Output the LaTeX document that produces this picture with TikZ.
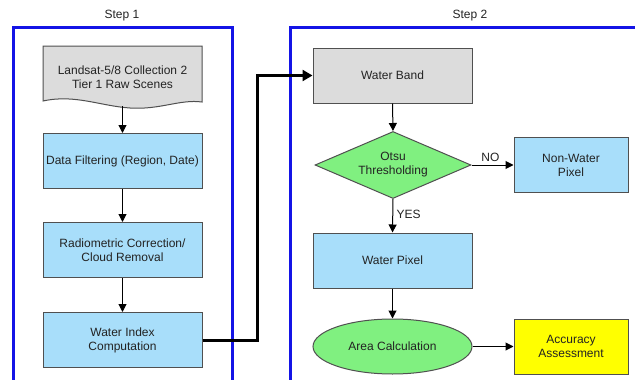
\documentclass[tikz,border=0pt]{standalone}
\usepackage{fontspec}
\setmainfont{Liberation Sans}
\usetikzlibrary{shapes.geometric,arrows.meta}
\definecolor{frameblue}{RGB}{20,20,230}
\definecolor{boxblue}{RGB}{168,222,250}
\definecolor{boxgray}{RGB}{220,220,220}
\definecolor{boxgreen}{RGB}{128,240,128}
\definecolor{boxyellow}{RGB}{255,255,0}
\definecolor{edgegray}{RGB}{80,80,80}
\definecolor{txt}{RGB}{35,35,35}
\tikzset{
  every node/.style={font=\fontsize{12}{14}\selectfont, text=txt},
  stepframe/.style={draw=frameblue, line width=3},
  procbox/.style={draw=edgegray, line width=1, fill=boxblue, minimum width=159, minimum height=55, align=center, inner sep=0},
  smallbox/.style={procbox, minimum width=114},
  graybox/.style={procbox, fill=boxgray},
  decision/.style={diamond, draw=edgegray, line width=1, fill=boxgreen, minimum width=156, minimum height=67, inner sep=0, align=center, aspect=2.3},
  terminal/.style={ellipse, draw=edgegray, line width=1, fill=boxgreen, minimum width=159, minimum height=55, inner sep=0, align=center},
  flow/.style={draw=black, line width=1, -{Triangle[length=8,width=8]}},
  bigflow/.style={draw=black, line width=3, -{Triangle[length=10,width=11]}},
  lbl/.style={font=\fontsize{12}{14}\selectfont, text=txt}
}
\begin{document}
\begin{tikzpicture}[x=1pt,y=-1pt]
\useasboundingbox (0,0) rectangle (635,380);
\fill[white] (0,0) rectangle (635,380);
% frames
\draw[stepframe] (13,400) -- (13,27) -- (232,27) -- (232,400);
\draw[stepframe] (290,400) -- (290,27) -- (650,27);
\node[lbl] (s1) at (122,16) {Step 1};
\node[lbl] (s2) at (470,16) {Step 2};
% document shape
\draw[draw=edgegray, line width=1, fill=boxgray] (43,46) -- (202,46) -- (202,102)
  .. controls (180,99) and (160,110) .. (130,108)
  .. controls (100,106) and (75,94) .. (43,101) -- cycle;
\node[align=center] (land) at (122.5,77) {Landsat-5/8 Collection 2\\Tier 1 Raw Scenes};
\coordinate (landb) at (122.5,106);
% step 1 boxes
\node[procbox] (filt) at (122.5,161) {Data Filtering (Region, Date)};
\node[procbox] (radio) at (122.5,250) {Radiometric Correction/\\Cloud Removal};
\node[procbox] (widx) at (122.5,340) {Water Index\\Computation};
\draw[flow] (landb) -- (filt.north);
\draw[flow] (filt.south) -- (radio.north);
\draw[flow] (radio.south) -- (widx.north);
% step 2
\node[graybox] (band) at (392.5,75.5) {Water Band};
\node[decision] (otsu) at (393,165) {Otsu\\Thresholding};
\node[smallbox] (nonw) at (571,165) {Non-Water\\Pixel};
\node[procbox] (wpix) at (392.5,260.5) {Water Pixel};
\node[terminal] (area) at (392.5,346.5) {Area Calculation};
\node[smallbox, fill=boxyellow] (acc) at (571,346.5) {Accuracy\\Assessment};
\coordinate (corner1) at (257,340);
\coordinate (corner2) at (257,75.5);
\draw[bigflow] (widx.east) -- (corner1) -- (corner2) -- (band.west);
\draw[flow] (band.south) -- (otsu.north);
\draw[flow] (otsu.east) -- node[above, lbl, pos=0.45] {NO} (nonw.west);
\draw[flow] (otsu.south) -- node[right, lbl, pos=0.45] {YES} (wpix.north);
\draw[flow] (wpix.south) -- (area.north);
\draw[flow] (area.east) -- (acc.west);
\end{tikzpicture}
\end{document}
